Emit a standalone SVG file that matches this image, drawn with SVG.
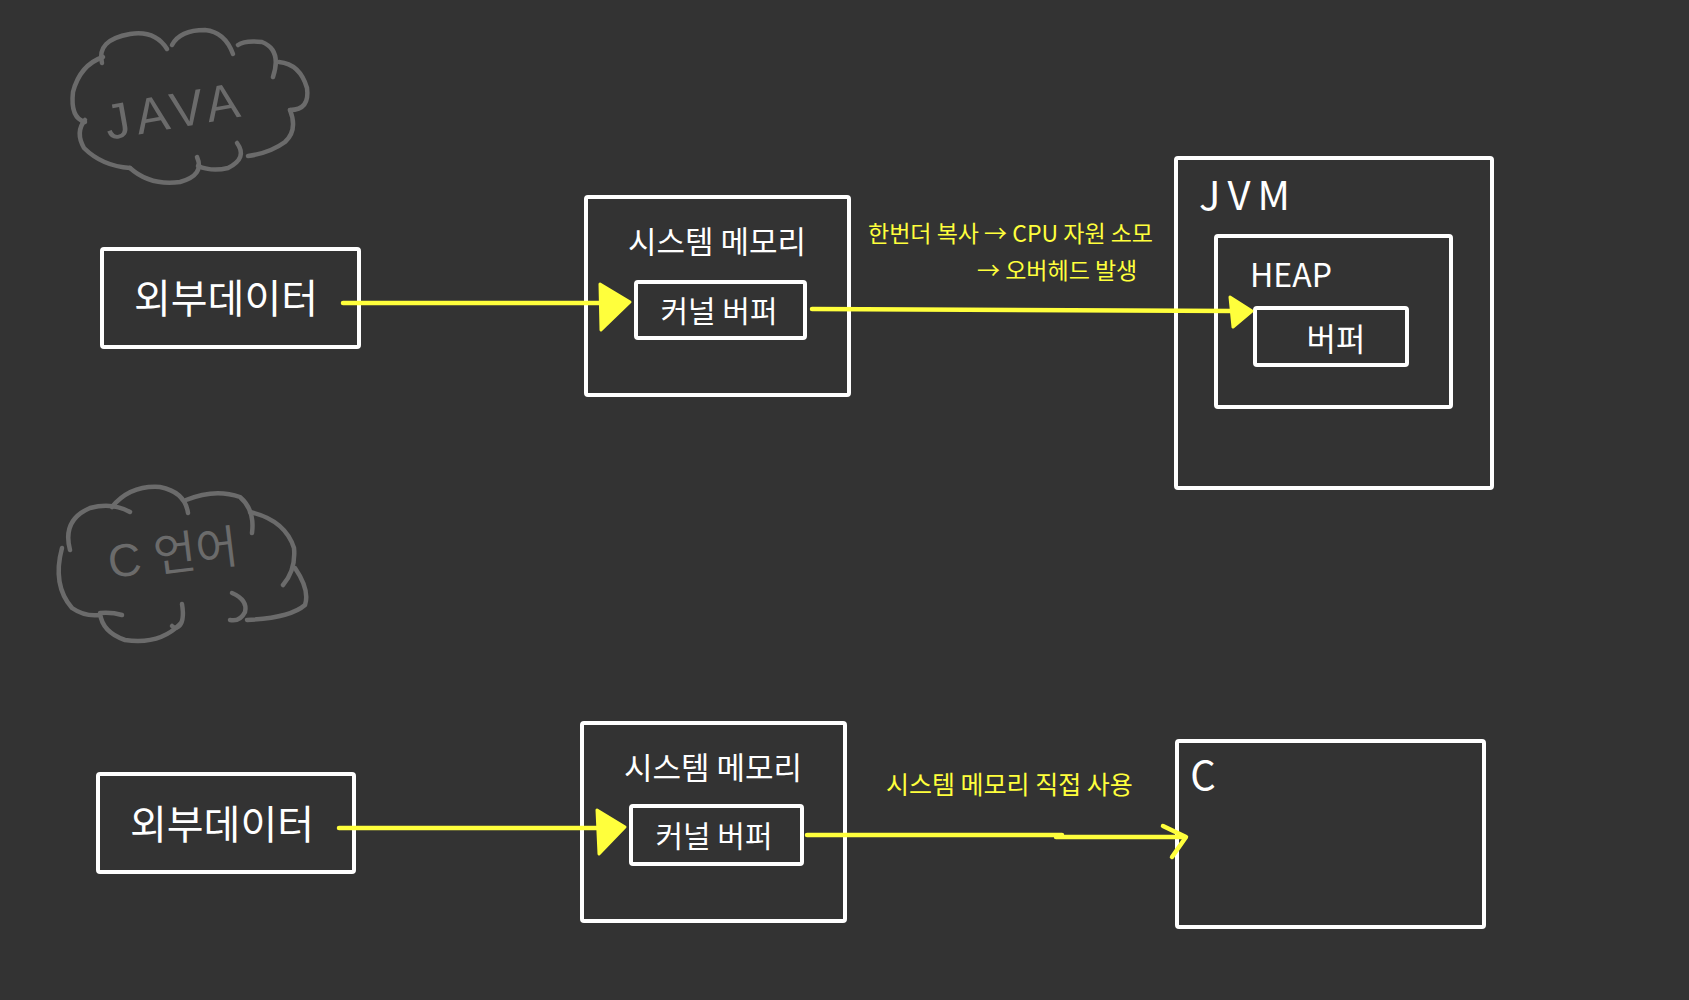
<svg xmlns="http://www.w3.org/2000/svg" width="1689" height="1000" viewBox="0 0 1689 1000">
<style>
.box{fill:none;stroke:#ffffff;stroke-width:4;stroke-linejoin:round}
.wt{fill:#ffffff;font-family:"Noto Sans CJK KR","Liberation Sans",sans-serif;text-anchor:middle}
.yt{fill:#ffff3c;font-family:"Noto Sans CJK KR","Liberation Sans",sans-serif}
.cl{fill:none;stroke:#6b6b6b;stroke-width:4.5;stroke-linecap:round;stroke-linejoin:round}
.gt{fill:#6b6b6b;font-family:"Liberation Sans","Noto Sans CJK KR",sans-serif}
.ln{fill:none;stroke:#ffff3c;stroke-width:4.5;stroke-linecap:round;stroke-linejoin:round}
.hd{fill:#ffff3c;stroke:#ffff3c;stroke-width:3;stroke-linejoin:round}
</style>
<rect width="1689" height="1000" fill="#333333"/>

<g id="cloud-java">
<path class="cl" d="M102,63 Q96,40 130,34 Q155,30 167,49"/>
<path class="cl" d="M172,45 Q180,30 205,30 Q225,32 233,54"/>
<path class="cl" d="M238,45 Q245,40 262,42 Q282,50 273,77"/>
<path class="cl" d="M279,62 Q300,64 307,88 Q310,110 290,110"/>
<path class="cl" d="M290,110 Q298,130 285,142 Q270,153 248,156"/>
<path class="cl" d="M237,143 Q248,158 228,168 Q212,172 198,166"/>
<path class="cl" d="M197,157 Q205,175 180,182 Q150,186 130,168"/>
<path class="cl" d="M130,168 Q102,166 84,148 Q75,132 85,120"/>
<path class="cl" d="M85,122 Q70,118 73,92 Q80,65 103,57"/>
<text class="gt" x="0" y="0" font-size="50" letter-spacing="6" transform="translate(108,140) rotate(-10)">JAVA</text>
</g>

<g id="cloud-c">
<path class="cl" d="M70,550 Q62,520 90,508 Q112,502 130,512"/>
<path class="cl" d="M112,507 Q130,485 160,487 Q185,492 188,513"/>
<path class="cl" d="M186,500 Q215,488 240,497 Q255,510 252,533"/>
<path class="cl" d="M250,512 Q285,520 294,548 Q296,570 283,585"/>
<path class="cl" d="M295,568 Q310,590 305,605 Q290,618 247,620"/>
<path class="cl" d="M232,593 Q248,600 245,612 Q240,622 230,620"/>
<path class="cl" d="M182,604 Q185,622 178,627 Q175,629 172,626"/>
<path class="cl" d="M180,624 Q160,645 125,640 Q102,632 100,613 Q112,612 122,615"/>
<path class="cl" d="M62,548 Q52,585 72,608 Q85,617 100,615"/>
<text class="gt" x="0" y="0" font-size="46" transform="translate(110,578) rotate(-7)">C <tspan font-family="Noto Sans CJK KR,sans-serif">언어</tspan></text>
</g>

<g id="ext-data-top">
<rect class="box" x="102" y="249" width="257" height="98" rx="2"/>
<text class="wt" x="226" y="313" font-size="40">외부데이터</text>
</g>

<g id="sysmem-top">
<rect class="box" x="586" y="197" width="263" height="198" rx="2"/>
<text class="wt" x="717" y="253" font-size="31">시스템 메모리</text>
</g>
<g id="kbuf-top">
<rect class="box" x="636" y="282" width="169" height="56" rx="2"/>
<text class="wt" x="719" y="322" font-size="30">커널 버퍼</text>
</g>

<g id="jvm">
<rect class="box" x="1176" y="158" width="316" height="330" rx="2"/>
<text class="wt" x="1248" y="210" font-size="40" letter-spacing="7" font-family="Liberation Sans,sans-serif">JVM</text>
</g>
<g id="heap">
<rect class="box" x="1216" y="236" width="235" height="171" rx="2"/>
<text class="wt" x="1291" y="287" font-size="32" font-family="Liberation Sans,sans-serif">HEAP</text>
</g>
<g id="buf-heap">
<rect class="box" x="1255" y="308" width="152" height="57" rx="2"/>
<text class="wt" x="1336" y="351" font-size="32">버퍼</text>
</g>

<g id="ext-data-bottom">
<rect class="box" x="98" y="774" width="256" height="98" rx="2"/>
<text class="wt" x="222" y="839" font-size="40">외부데이터</text>
</g>
<g id="sysmem-bottom">
<rect class="box" x="582" y="723" width="263" height="198" rx="2"/>
<text class="wt" x="713" y="779" font-size="31">시스템 메모리</text>
</g>
<g id="kbuf-bottom">
<rect class="box" x="631" y="806" width="171" height="58" rx="2"/>
<text class="wt" x="714" y="847" font-size="30">커널 버퍼</text>
</g>

<g id="c-box">
<rect class="box" x="1177" y="741" width="307" height="186" rx="2"/>
<text class="wt" x="1203" y="790" font-size="40" font-family="Liberation Sans,sans-serif">C</text>
</g>

<g id="labels">
<text class="yt" x="868" y="242" font-size="23">한번더 복사 → CPU 자원 소모</text>
<text class="yt" x="977" y="279" font-size="23">→ 오버헤드 발생</text>
<text class="yt" x="886" y="794" font-size="25">시스템 메모리 직접 사용</text>
</g>

<g id="connectors">
<path class="ln" d="M343,303 L602,303"/>
<path class="hd" d="M600,284 L630,302 L601,330 Z"/>
<path class="ln" d="M812,309 L1234,311"/>
<path class="hd" d="M1230,297 L1252,311 L1233,327 Z"/>
<path class="ln" d="M339,828 L600,828"/>
<path class="hd" d="M597,810 L625,827 L599,854 Z"/>
<path class="ln" d="M807,835 L1062,835 M1056,837 L1183,837"/>
<path class="ln" d="M1163,826 L1186,837 L1172,857"/>
</g>
</svg>
